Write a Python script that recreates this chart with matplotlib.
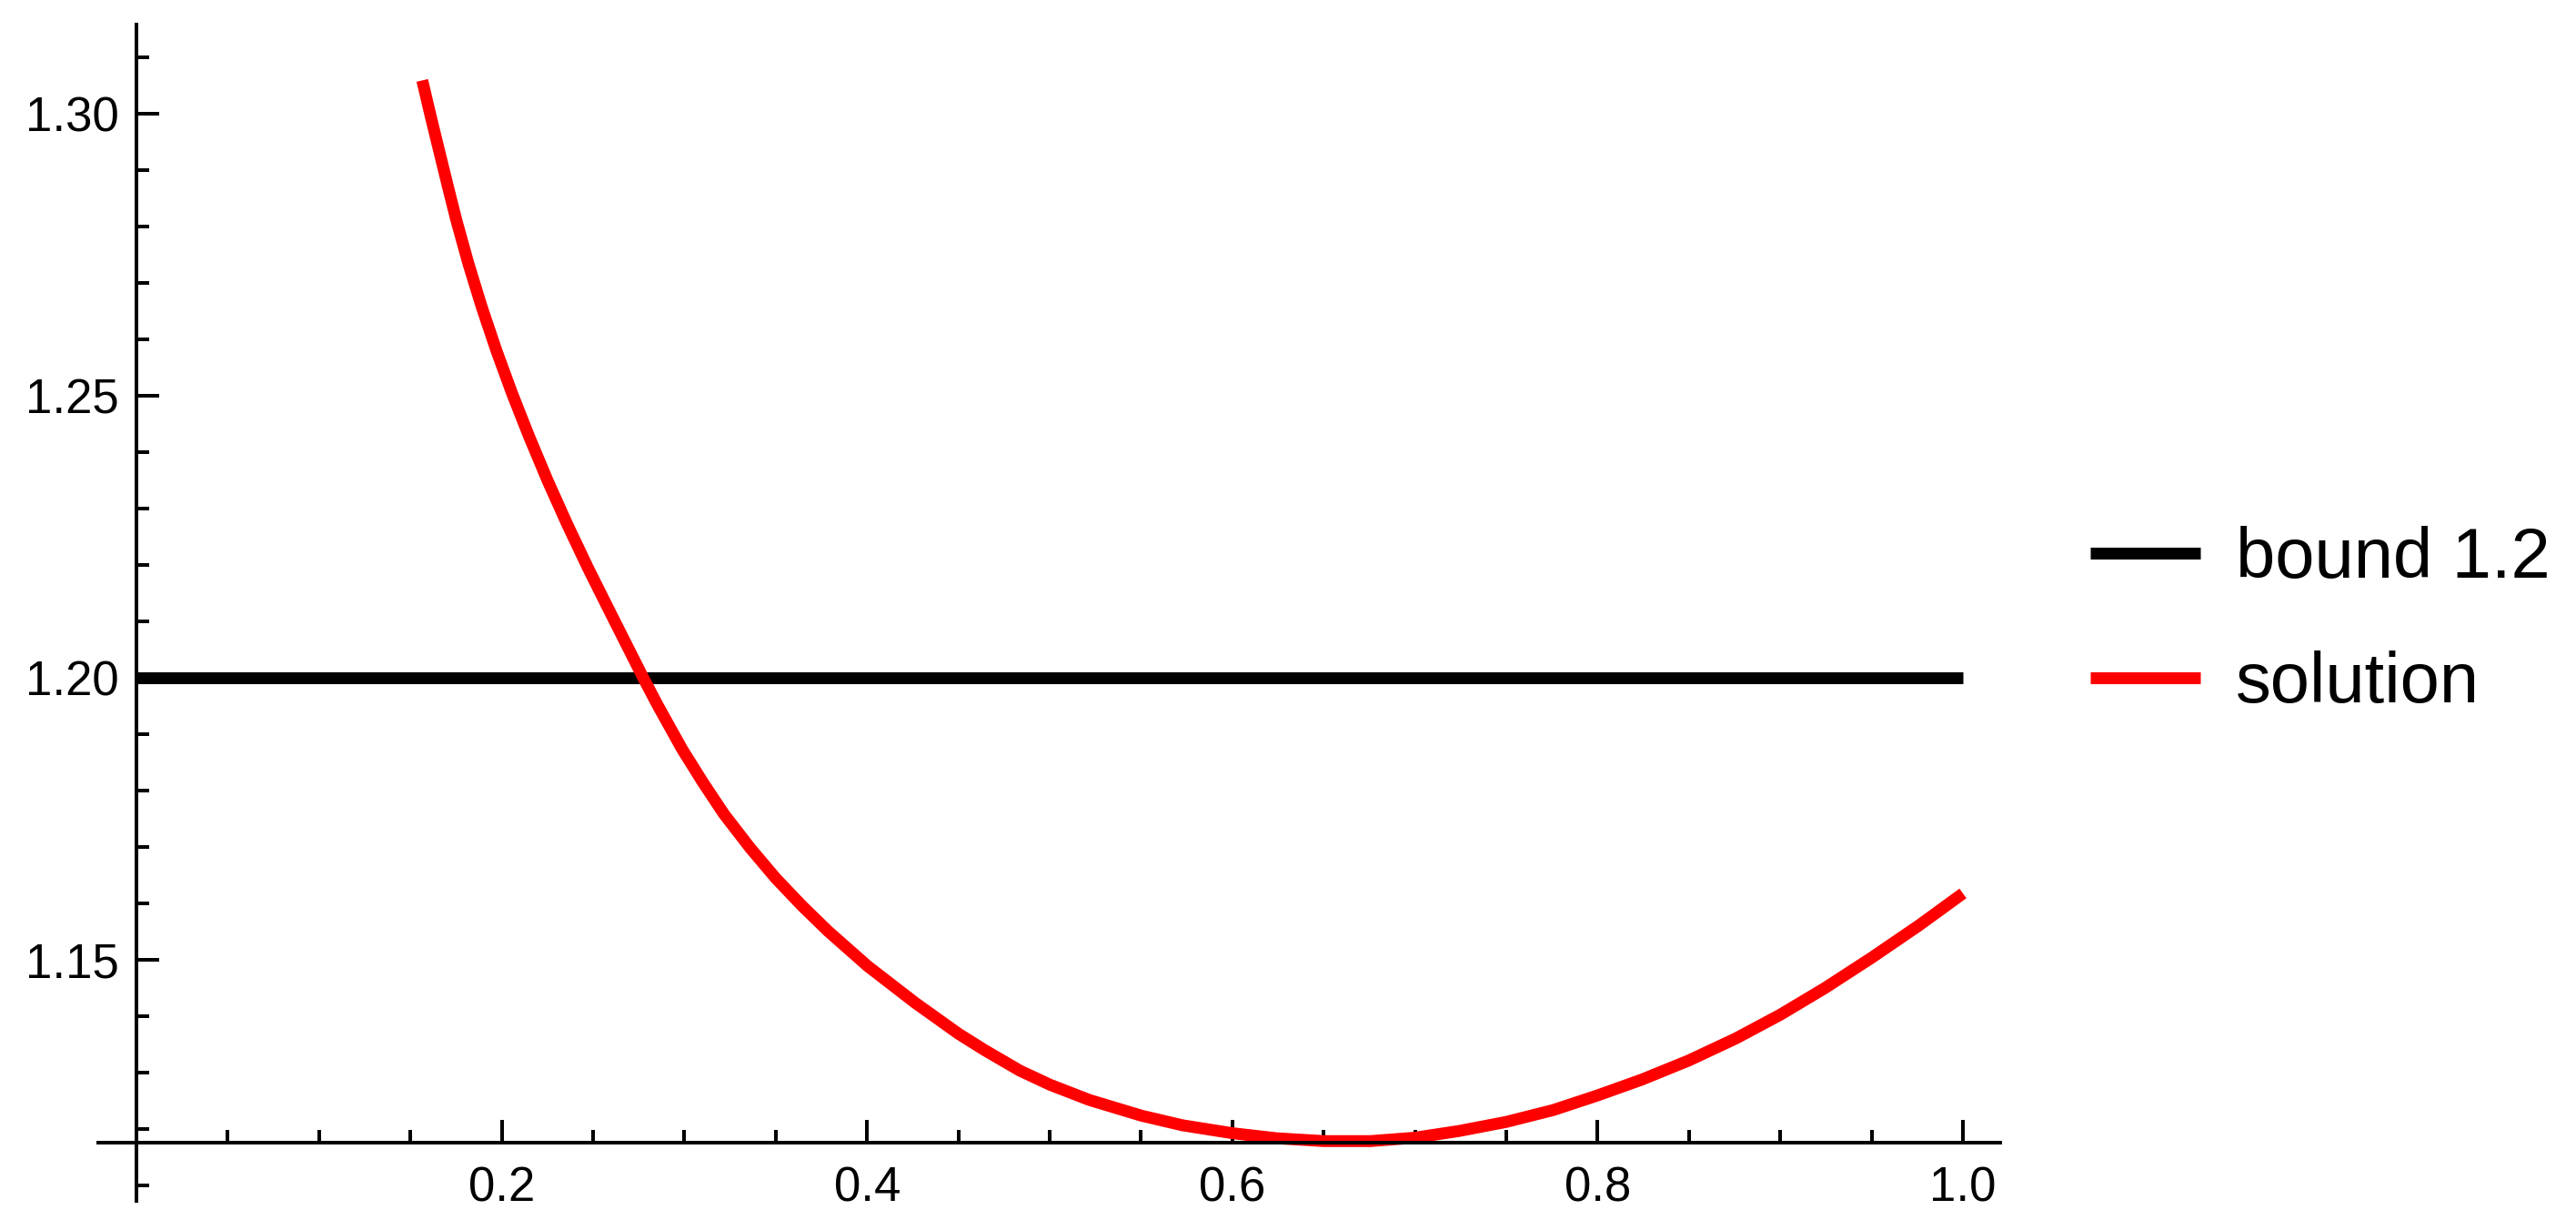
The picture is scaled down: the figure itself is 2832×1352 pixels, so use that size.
import matplotlib
matplotlib.use("Agg")
import matplotlib.pyplot as plt
from matplotlib.ticker import FixedLocator, FormatStrFormatter

plt.rcParams['font.family'] = ['Liberation Sans', 'DejaVu Sans']

# ---- data ----
sol_x = [0.1565, 0.1610, 0.1656, 0.1703, 0.1751, 0.1817, 0.1890, 0.1970,
         0.2057, 0.2151, 0.2252, 0.2359, 0.2472, 0.2591, 0.2775, 0.2853,
         0.2987, 0.3101, 0.3216, 0.3359, 0.3500, 0.3644, 0.3787, 0.4004,
         0.4264, 0.4502, 0.4645, 0.4836, 0.5001, 0.5216, 0.5503, 0.5727,
         0.6000, 0.6242, 0.6500, 0.6757, 0.7000, 0.7243, 0.7500, 0.7757,
         0.8000, 0.8242, 0.8500, 0.8757, 0.9000, 0.9243, 0.9500, 0.9758,
         1.0000]
sol_y = [1.3059, 1.2997, 1.2936, 1.2874, 1.2812, 1.2735, 1.2658, 1.2581,
         1.2504, 1.2427, 1.2349, 1.2272, 1.2195, 1.2118, 1.2000, 1.1952,
         1.1874, 1.1815, 1.1759, 1.1699, 1.1645, 1.1596, 1.1551, 1.1489,
         1.1424, 1.1369, 1.1340, 1.1304, 1.1279, 1.1252, 1.1224, 1.1207,
         1.1193, 1.1184, 1.1179, 1.1179, 1.1185, 1.1197, 1.1213, 1.1234,
         1.1260, 1.1288, 1.1322, 1.1361, 1.1403, 1.1450, 1.1504, 1.1561,
         1.1618]
bound_x = [0.0, 1.0]
bound_y = [1.2, 1.2]
labels = ["bound 1.2", "solution"]

x_major = [0.2, 0.4, 0.6, 0.8, 1.0]
x_minor = [0.05 * i for i in range(1, 21)]
y_major = [1.15, 1.20, 1.25, 1.30]
y_minor = [1.11 + 0.01 * i for i in range(21)]

W, H, DPI = 2832, 1352, 200
fig = plt.figure(figsize=(W / DPI, H / DPI), dpi=DPI)
# axes box in pixels: x 108..2199, y(top) 27..1320
ax = fig.add_axes([108 / W, (H - 1320) / H, (2199 - 108) / W, (1320 - 27) / H])

lw = 4.7
ax.plot(bound_x, bound_y, color='black', lw=lw, solid_capstyle='butt', label=labels[0])
ax.plot(sol_x, sol_y, color='#ff0000', lw=lw, solid_capstyle='butt',
        solid_joinstyle='round', label=labels[1])

ax.set_xlim(-0.0209, 1.0204)
ax.set_ylim(1.1073, 1.3158)

for s in ['top', 'right']:
    ax.spines[s].set_visible(False)
ax.spines['left'].set_position(('data', 0.0))
ax.spines['bottom'].set_position(('data', 1.11758))
for s in ['left', 'bottom']:
    ax.spines[s].set_linewidth(1.44)

ax.xaxis.set_major_locator(FixedLocator(x_major))
ax.xaxis.set_minor_locator(FixedLocator(x_minor))
ax.yaxis.set_major_locator(FixedLocator(y_major))
ax.yaxis.set_minor_locator(FixedLocator(y_minor))
ax.xaxis.set_major_formatter(FormatStrFormatter('%.1f'))
ax.yaxis.set_major_formatter(FormatStrFormatter('%.2f'))

ax.tick_params(which='both', direction='in', width=1.44, labelsize=19)
ax.tick_params(which='major', length=9)
ax.tick_params(which='minor', length=5.2)
ax.tick_params(axis='x', which='major', pad=9)
ax.tick_params(axis='y', which='major', pad=7)
ax.patch.set_alpha(0)

leg = ax.legend(loc='center left', bbox_to_anchor=(2298 / W, (H - 683) / H),
                bbox_transform=fig.transFigure, frameon=False, fontsize=28,
                handlelength=1.56, handletextpad=0.5, labelspacing=0.83,
                borderpad=0, borderaxespad=0)
for h in leg.get_lines():
    h.set_linewidth(lw)
    h.set_solid_capstyle('butt')

fig.savefig('out.png', dpi=DPI)
